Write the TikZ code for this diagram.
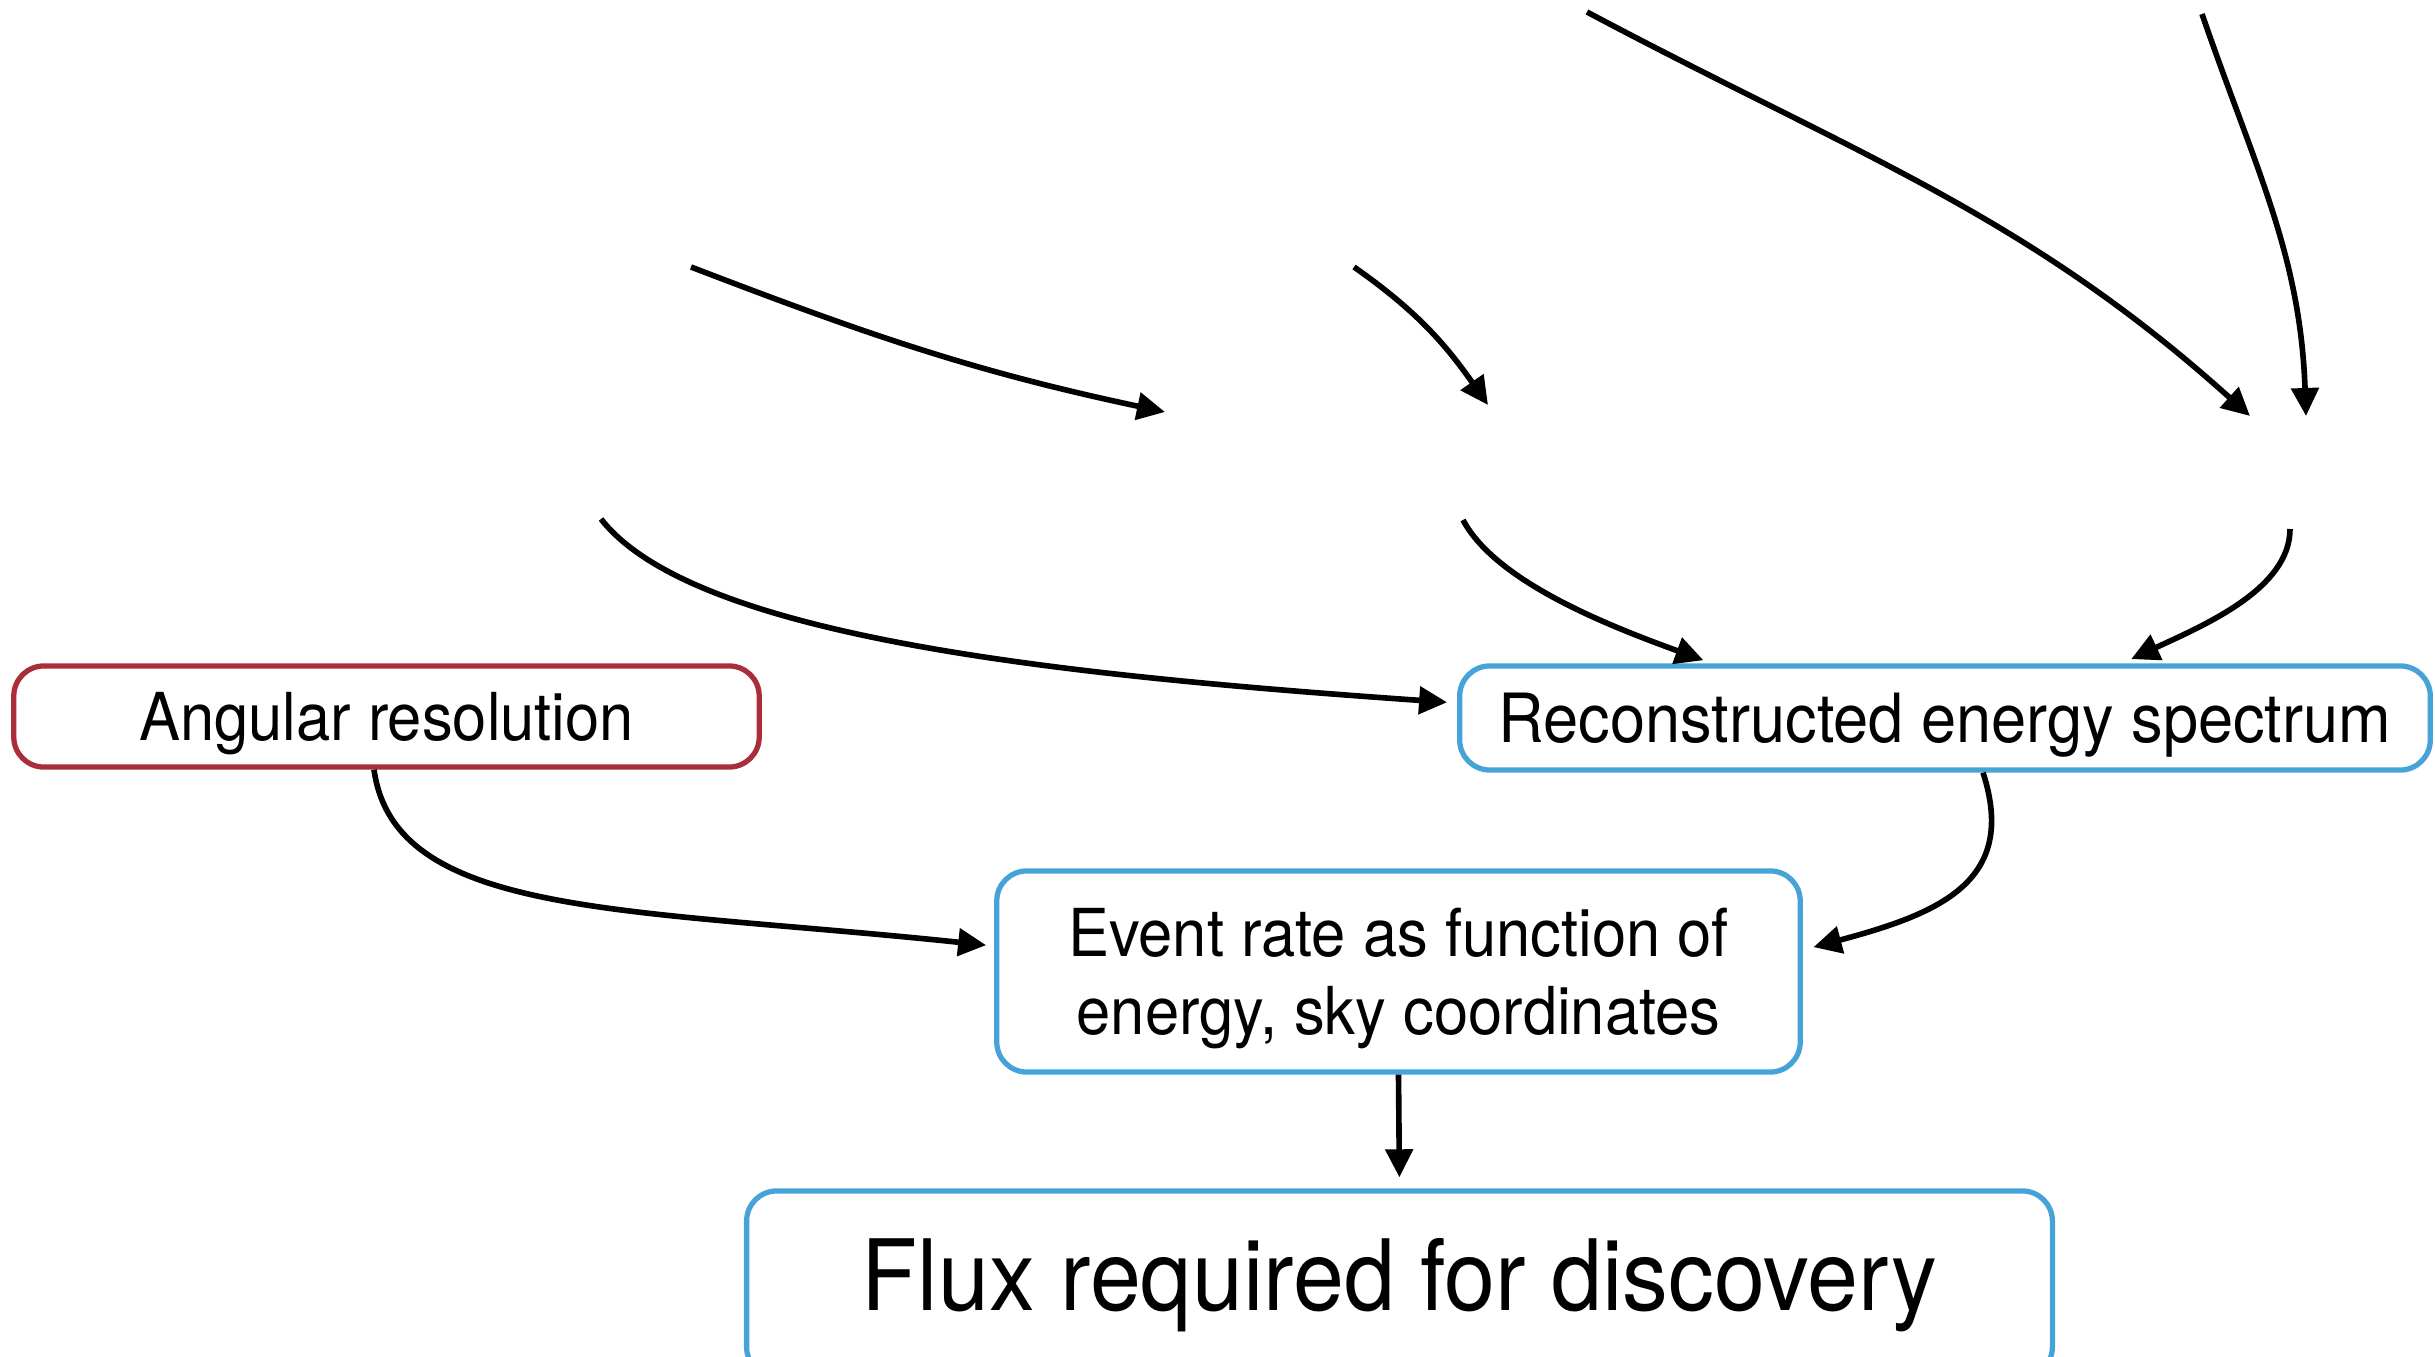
\documentclass[tikz,border=0pt]{standalone}
\usepackage{fontspec}
\setmainfont{TeX Gyre Heros}[FakeStretch=0.93]
\usetikzlibrary{arrows.meta}
\definecolor{boxred}{RGB}{168,46,58}
\definecolor{boxblue}{RGB}{70,163,216}
\begin{document}
\begin{tikzpicture}[x=0.01cm,y=0.01cm,
  arr/.style={line width=1.6pt,-{Triangle[length=0.28cm,width=0.27cm]}},
  box/.style={draw,line width=1.5pt,rounded corners=0.3cm,inner sep=0pt,align=center,fill=white},
  smalltext/.style={font=\fontsize{18.8}{22.2}\selectfont,text height=13.5pt,text depth=0pt},
  bigtext/.style={font=\fontsize{28}{33}\selectfont,text height=20.2pt,text depth=5.1pt}]
\useasboundingbox (0,0) rectangle (2435,1356);
\fill[white] (0,0) rectangle (2435,1356);
% boxes
\node[box,smalltext,draw=boxred,minimum width=7.45cm,minimum height=1.01cm] (ang) at (386.5,639.5) {Angular resolution};
\node[box,font=\fontsize{19.3}{22.2}\selectfont,text height=13.8pt,text depth=0pt,draw=boxblue,minimum width=9.70cm,minimum height=1.04cm] (recon) at (1945,638) {Reconstructed energy spectrum};
\node[box,font=\fontsize{18.8}{22.2}\selectfont,text height=35.7pt,text depth=0pt,draw=boxblue,minimum width=8.03cm,minimum height=2.01cm] (event) at (1398.5,384.5) {Event rate as function of\\energy, sky coordinates};
\node[box,bigtext,draw=boxblue,minimum width=13.05cm,minimum height=1.86cm] (flux) at (1399.5,72) {Flux required for discovery};
% free ends
\coordinate (a1s) at (691,1089);
\coordinate (a1e) at (1165,944);
\coordinate (a2s) at (1354,1089);
\coordinate (a2e) at (1488,951);
\coordinate (a3s) at (1587,1344);
\coordinate (a3e) at (2250,940);
\coordinate (a4s) at (2202,1342);
\coordinate (a4e) at (2306,940);
\coordinate (a5s) at (601,837);
\coordinate (a6s) at (1463,836);
\coordinate (a7s) at (2290,827);
% connectors
\draw[arr] (a1s) to[out=-21,in=168] (a1e);
\draw[arr] (a2s) to[out=-35,in=125] (a2e);
\draw[arr] (a3s) to[out=-28,in=138] (a3e);
\draw[arr] (a4s) to[out=-71,in=92] (a4e);
\draw[arr,shorten >=0.1cm] (a5s) .. controls +(-52:150) and +(176:400) .. ([yshift=0.15cm]recon.west);
\draw[arr,shorten >=0.09cm] (a6s) .. controls +(-62:70) and +(160:110) .. ([xshift=-2.33cm]recon.north);
\draw[arr,shorten >=0.1cm] (a7s) .. controls +(-90:60) and +(25:90) .. ([xshift=1.77cm]recon.north);
\draw[arr,shorten >=0.08cm] ([xshift=-0.125cm]ang.south) .. controls +(-82:150) and +(174:370) .. ([yshift=0.255cm]event.west);
\draw[arr,shorten >=0.11cm] ([xshift=0.38cm]recon.south) .. controls +(-72:115) and +(15:140) .. ([yshift=0.215cm]event.east);
\draw[arr,shorten >=0.11cm] (event.south) -- (flux.north);
\end{tikzpicture}
\end{document}
